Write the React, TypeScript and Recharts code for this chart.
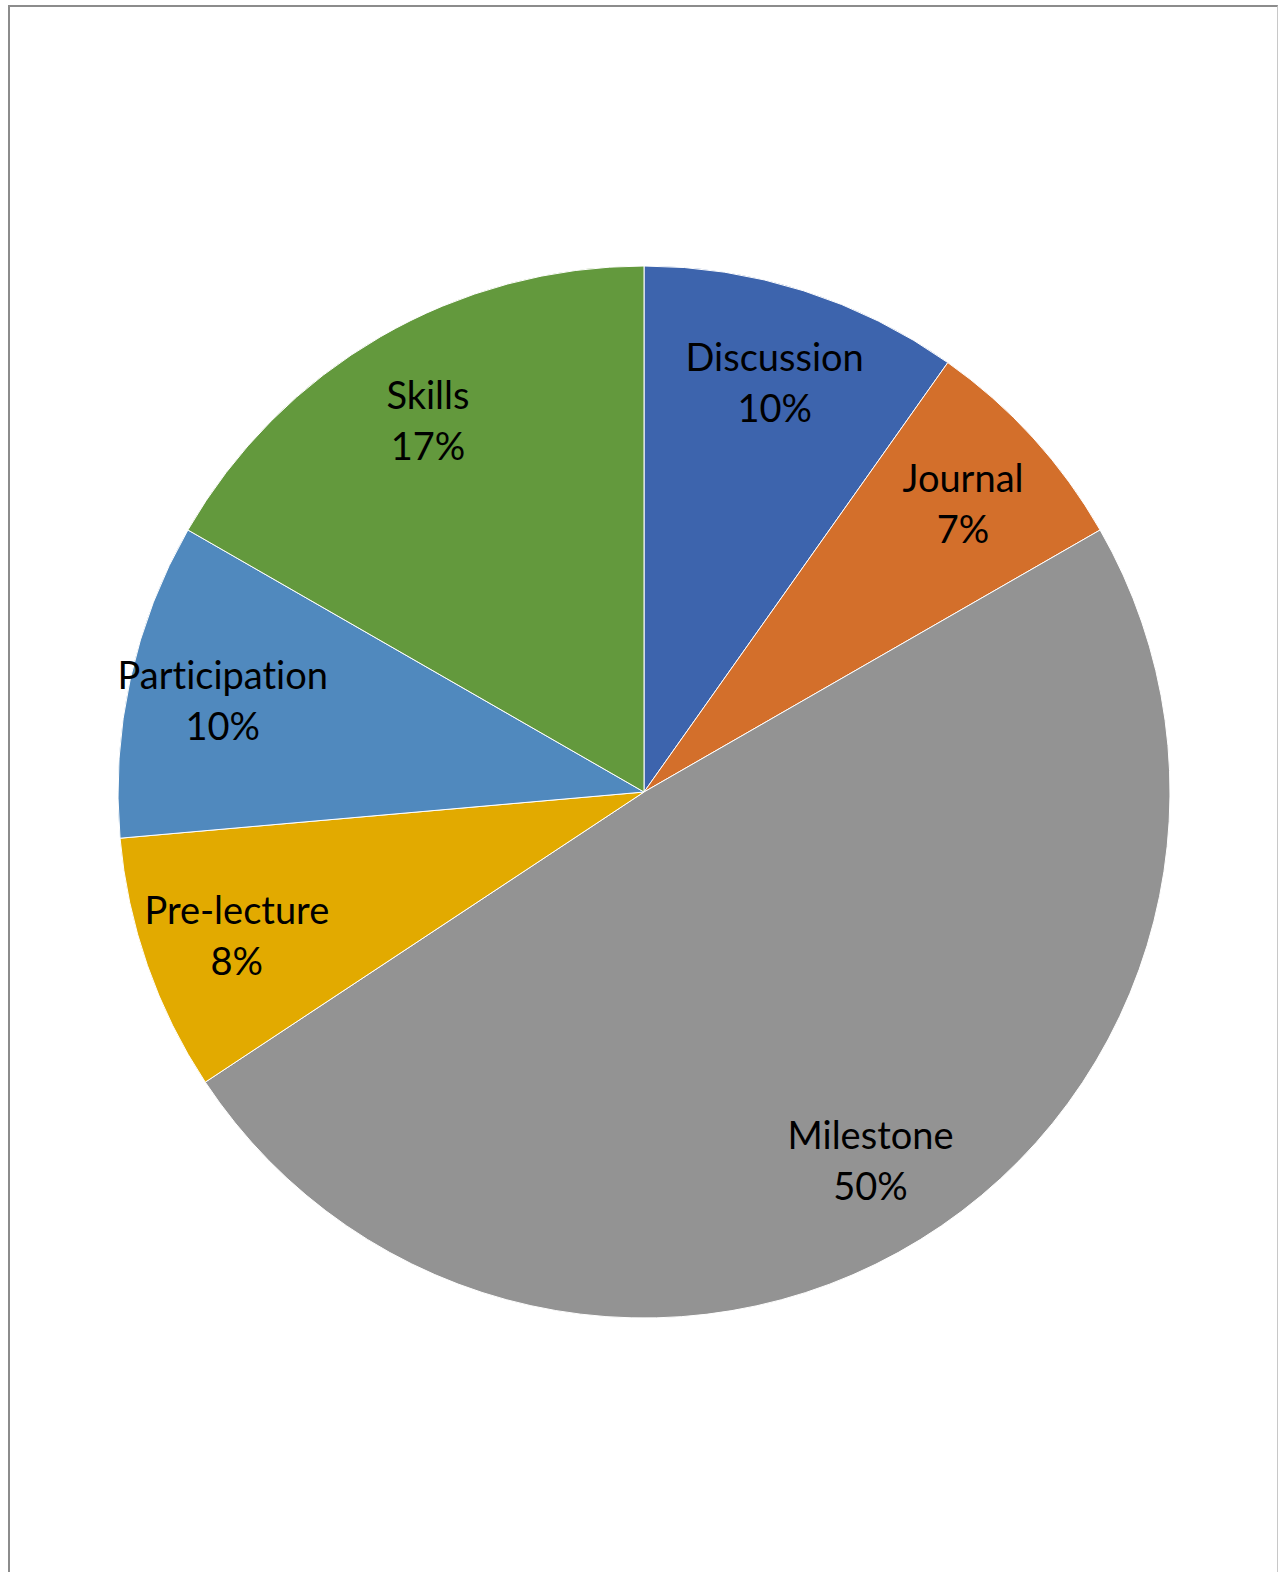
import React from 'react';
import { PieChart, Pie, Cell } from 'recharts';

const categories = ['Discussion', 'Journal', 'Milestone', 'Pre-lecture', 'Participation', 'Skills'];
const shares = [9.8, 6.9, 49.0, 7.9, 9.7, 16.7];
const percentLabels = ['10%', '7%', '50%', '8%', '10%', '17%'];
const colors = ['#3D64AD', '#D36F2B', '#939393', '#E2AA00', '#5089BE', '#63993D'];

const data = categories.map((name, i) => ({ name, value: shares[i], pct: percentLabels[i] }));

const RADIAN = Math.PI / 180;

const renderLabel = (props: any) => {
  const { cx, cy, midAngle, outerRadius, index } = props;
  const r = outerRadius * 0.82;
  const x = cx + r * Math.cos(-midAngle * RADIAN);
  const y = cy + r * Math.sin(-midAngle * RADIAN);
  return (
    <text
      x={x}
      y={y}
      textAnchor="middle"
      fill="#000"
      fontFamily="Lato, 'Open Sans', sans-serif"
      fontSize={38}
      style={{ fontVariantLigatures: 'none' }}
    >
      <tspan x={x} dy={-10}>{categories[index]}</tspan>
      <tspan x={x} dy={51}>{percentLabels[index]}</tspan>
    </text>
  );
};

const App: React.FC = () => {
  return (
    <div
      style={{
        position: 'fixed',
        left: 8,
        top: 5,
        width: 1270,
        height: 1600,
        borderLeft: '2px solid #8c8c8c',
        borderTop: '2px solid #8c8c8c',
        borderRight: '1px solid #c8c8c8',
        boxSizing: 'border-box',
        background: '#fff',
      }}
    >
      <PieChart width={1265} height={1568}>
        <Pie
          data={data}
          dataKey="value"
          nameKey="name"
          cx={629}
          cy={780}
          outerRadius={526}
          startAngle={90}
          endAngle={-270}
          stroke="#ffffff"
          strokeWidth={1}
          label={renderLabel}
          labelLine={false}
          isAnimationActive={false}
        >
          {data.map((d, i) => (
            <Cell key={d.name} fill={colors[i]} />
          ))}
        </Pie>
      </PieChart>
    </div>
  );
};

export default App;
